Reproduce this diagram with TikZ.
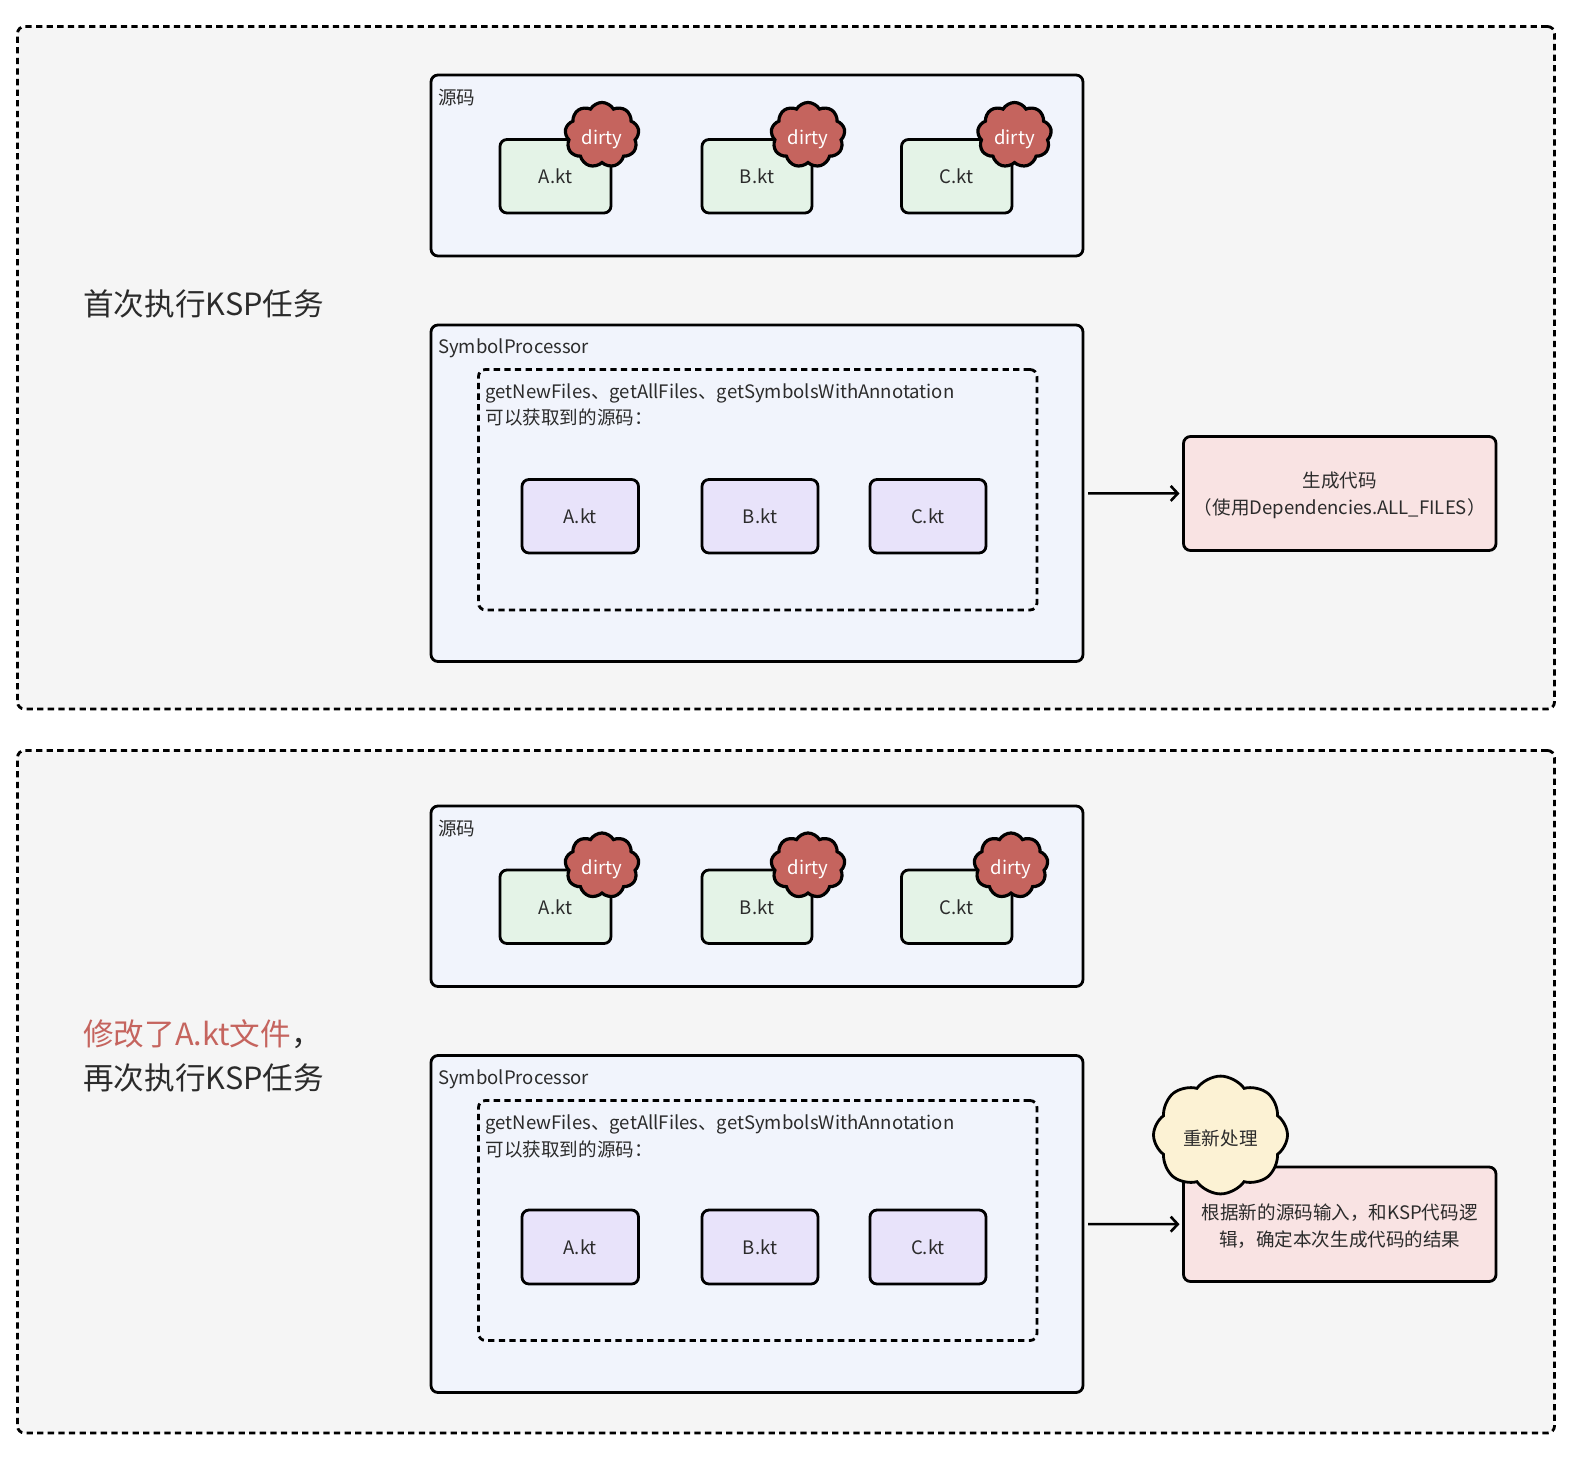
\documentclass[tikz,border=0pt]{standalone}
\usepackage{fontspec}
\setmainfont{Noto Sans CJK SC}
\usetikzlibrary{arrows.meta,shapes.symbols}
\definecolor{txt}{HTML}{2B2B2B}
\definecolor{ink}{HTML}{000000}
\definecolor{panel}{HTML}{F5F5F5}
\definecolor{bluebox}{HTML}{F1F4FC}
\definecolor{greenbox}{HTML}{E4F3E7}
\definecolor{purplebox}{HTML}{E8E3FA}
\definecolor{pinkbox}{HTML}{F9E3E3}
\definecolor{redcloud}{HTML}{C5645E}
\definecolor{yellowcloud}{HTML}{FCF2D4}
\newcommand{\smalltxt}{\fontsize{18.55}{26.6}\selectfont}
\newcommand{\bigtxt}{\fontsize{30.6}{44}\selectfont}
\newcommand{\lowtxt}[1]{\raisebox{-7.5pt}[0pt][0pt]{#1}}
\newcommand{\cloudtxt}[1]{\raisebox{-9pt}[0pt][0pt]{#1}}
\newcommand{\worktxt}[1]{\raisebox{-10.5pt}[0pt][0pt]{#1}}
\newcommand{\twolines}[1]{\raisebox{-6pt}[0pt][0pt]{\parbox[c]{300pt}{\centering #1}}}
\newcommand{\bx}[7]{\node[#2,minimum width={(#5-#3)*1pt},minimum height={(#6-#4)*1pt}] (#1) at ({(#3+#5)/2},{(#4+#6)/2}) {#7};}
\tikzset{
  base/.style={draw=ink,line width=2.8pt,rounded corners=7pt,inner sep=0pt,outer sep=0pt,align=center,text=txt,font=\smalltxt},
  panelbox/.style={base,fill=panel,dash pattern=on 6.3pt off 4.3pt},
  holder/.style={base,fill=bluebox},
  innerdash/.style={base,fill=bluebox,dash pattern=on 6.3pt off 4.3pt},
  srcfile/.style={base,fill=greenbox},
  procfile/.style={base,fill=purplebox},
  resultbox/.style={base,fill=pinkbox},
  cloudbase/.style={shape=cloud,draw=ink,inner sep=0pt,outer sep=0pt,align=center,font=\smalltxt},
  dirty/.style={cloudbase,cloud puffs=9,cloud puff arc=120,fill=redcloud,text=white,line width=3.2pt,minimum width=74pt,minimum height=54pt},
  rework/.style={cloudbase,cloud puffs=8,cloud puff arc=110,fill=yellowcloud,text=txt,line width=2.8pt,minimum width=134pt,minimum height=102pt},
  lab/.style={anchor=west,inner sep=0pt,text=txt,font=\smalltxt,align=left},
  title/.style={anchor=west,inner sep=0pt,text=txt,font=\bigtxt,align=left},
  flow/.style={draw=ink,line width=2.6pt,shorten <=5pt,shorten >=4pt,-{Straight Barb[length=7pt,width=15pt,line width=2.6pt]}},
}
\begin{document}
\begin{tikzpicture}[x=1pt,y=-1pt]
\useasboundingbox (0,0) rectangle (1586,1456);
% ---------- first panel
\bx{p1}{panelbox}{17.5}{26.5}{1554.5}{709}{}
\node[title] (t1) at (83,303.5) {首次执行KSP任务};
\bx{s1}{holder}{431}{75}{1083}{256}{}
\node[lab] (s1l) at (438,97.5) {源码};
\bx{a1}{srcfile}{500}{139.5}{611}{213}{\lowtxt{A.kt}}
\bx{b1}{srcfile}{702}{139.5}{812}{213}{\lowtxt{B.kt}}
\bx{c1}{srcfile}{901.5}{139.5}{1012}{213}{\lowtxt{C.kt}}
\node[dirty] (da1) at (602,135) {\cloudtxt{dirty}};
\node[dirty] (db1) at (808,135) {\cloudtxt{dirty}};
\node[dirty] (dc1) at (1014.5,135) {\cloudtxt{dirty}};
\bx{sp1}{holder}{431}{325}{1083}{661.5}{}
\node[lab] (sp1l) at (438,348) {SymbolProcessor};
\bx{d1}{innerdash}{478.5}{369.5}{1037}{610}{}
\node[lab] (d1l) at (485.5,405) {getNewFiles、getAllFiles、getSymbolsWithAnnotation\\可以获取到的源码：};
\bx{pa1}{procfile}{522}{479.5}{638.5}{553}{\lowtxt{A.kt}}
\bx{pb1}{procfile}{702}{479.5}{818}{553}{\lowtxt{B.kt}}
\bx{pc1}{procfile}{870}{479.5}{986}{553}{\lowtxt{C.kt}}
\bx{r1}{resultbox}{1183.5}{436.5}{1496}{550.5}{\twolines{生成代码\\（使用Dependencies.ALL\_FILES）}}
\draw[flow] (sp1) -- (r1);
% ---------- second panel
\bx{p2}{panelbox}{17.5}{750.5}{1554.5}{1433}{}
\node[title,text=redcloud] (t2a) at (83,1034) {修改了A.kt文件\textcolor{txt}{，}};
\node[title] (t2b) at (83,1078) {再次执行KSP任务};
\bx{s2}{holder}{431}{806}{1083}{986.5}{}
\node[lab] (s2l) at (438,828.5) {源码};
\bx{a2}{srcfile}{500}{870}{611}{943.5}{\lowtxt{A.kt}}
\bx{b2}{srcfile}{702}{870}{812}{943.5}{\lowtxt{B.kt}}
\bx{c2}{srcfile}{901.5}{870}{1012}{943.5}{\lowtxt{C.kt}}
\node[dirty] (da2) at (602,865.5) {\cloudtxt{dirty}};
\node[dirty] (db2) at (808,865.5) {\cloudtxt{dirty}};
\node[dirty] (dc2) at (1011,865.5) {\cloudtxt{dirty}};
\bx{sp2}{holder}{431}{1055.5}{1083}{1392.5}{}
\node[lab] (sp2l) at (438,1079.5) {SymbolProcessor};
\bx{d2}{innerdash}{478.5}{1100.5}{1037}{1340.5}{}
\node[lab] (d2l) at (485.5,1136.5) {getNewFiles、getAllFiles、getSymbolsWithAnnotation\\可以获取到的源码：};
\bx{pa2}{procfile}{522}{1210}{638.5}{1284}{\lowtxt{A.kt}}
\bx{pb2}{procfile}{702}{1210}{818}{1284}{\lowtxt{B.kt}}
\bx{pc2}{procfile}{870}{1210}{986}{1284}{\lowtxt{C.kt}}
\bx{r2}{resultbox}{1183.5}{1167}{1496}{1281.5}{\twolines{根据新的源码输入，和KSP代码逻\\辑，确定本次生成代码的结果}}
\node[rework] (w2) at (1220.5,1135) {\worktxt{重新处理}};
\draw[flow] (sp2) -- (r2);
\end{tikzpicture}
\end{document}
